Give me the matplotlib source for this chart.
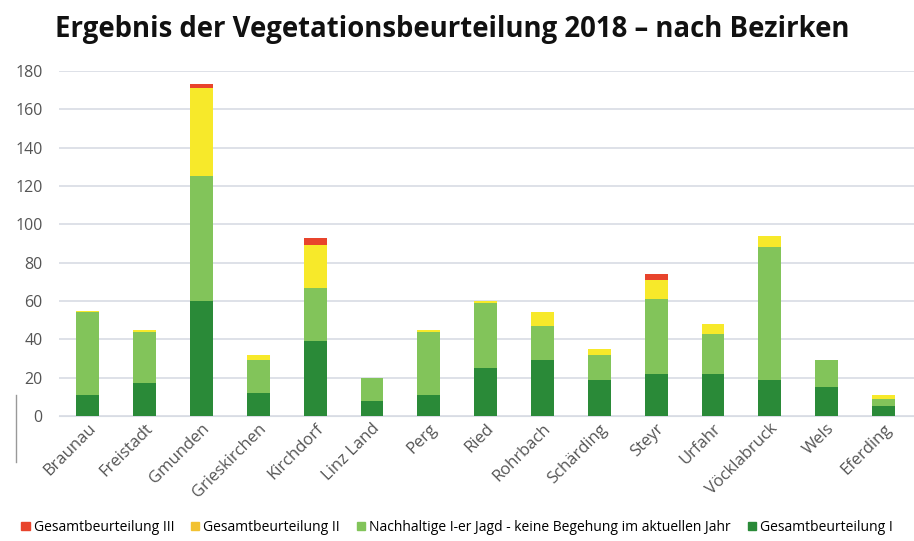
import matplotlib
matplotlib.use("Agg")
import matplotlib.pyplot as plt
import numpy as np
from matplotlib.patches import Patch

# Data
bezirke = ["Braunau", "Freistadt", "Gmunden", "Grieskirchen", "Kirchdorf", "Linz Land",
           "Perg", "Ried", "Rohrbach", "Schärding", "Steyr", "Urfahr", "Vöcklabruck",
           "Wels", "Eferding"]
gesamt_i = [11, 17, 60, 12, 39, 8, 11, 25, 29, 19, 22, 22, 19, 15, 5]
nachhaltig = [43, 27, 65, 17, 28, 12, 33, 34, 18, 13, 39, 21, 69, 14, 4]
gesamt_ii = [1, 1, 46, 3, 22, 0, 1, 1, 7, 3, 10, 5, 6, 0, 2]
gesamt_iii = [0, 0, 2, 0, 4, 0, 0, 0, 0, 0, 3, 0, 0, 0, 0]

plt.rcParams['font.family'] = ['Open Sans', 'DejaVu Sans']

fig = plt.figure(figsize=(9.14, 5.41), dpi=100)
ax = fig.add_axes([0.065, 0.231, 0.942, 0.638])

x = np.arange(len(bezirke))
w = 0.4
c_dark = '#2a8a38'
c_light = '#82c45a'
c_yellow = '#f7e92a'
c_red = '#e8442c'

b1 = np.array(gesamt_i)
b2 = b1 + np.array(nachhaltig)
b3 = b2 + np.array(gesamt_ii)
ax.bar(x, gesamt_i, w, color=c_dark, zorder=3)
ax.bar(x, nachhaltig, w, bottom=b1, color=c_light, zorder=3)
ax.bar(x, gesamt_ii, w, bottom=b2, color=c_yellow, zorder=3)
ax.bar(x, gesamt_iii, w, bottom=b3, color=c_red, zorder=3)

ax.set_ylim(0, 180)
ax.set_xlim(-0.5, len(bezirke) - 0.35)
ax.set_yticks(range(0, 181, 20))
ax.yaxis.grid(True, color='#d8dce4', linewidth=1.2, zorder=0)
ax.tick_params(axis='y', length=0, labelsize=11.5, labelcolor='#555555', pad=12)
ax.tick_params(axis='x', length=0, labelsize=12, labelcolor='#555555')
ax.set_xticks(x)
ax.set_xticklabels(bezirke, rotation=45, ha='right', rotation_mode='anchor')
for s in ['top', 'right', 'left']:
    ax.spines[s].set_visible(False)
ax.spines['bottom'].set_color('#d8dce4')

fig.text(0.06, 0.945, "Ergebnis der Vegetationsbeurteilung 2018 – nach Bezirken",
         fontsize=19.8, fontweight='bold', color='#111111', va='center')

# stray line at the left
fig.add_artist(plt.Line2D([0.017, 0.017], [0.146, 0.27], color='#999999', lw=1))

# Legend
handles = [Patch(color=c_red), Patch(color='#f2c232'), Patch(color=c_light), Patch(color=c_dark)]
labels = ["Gesamtbeurteilung III", "Gesamtbeurteilung II",
          "Nachhaltige I-er Jagd - keine Begehung im aktuellen Jahr", "Gesamtbeurteilung I"]
fig.legend(handles, labels, loc='center', bbox_to_anchor=(0.5, 0.025), ncol=4,
           frameon=False, fontsize=10, handlelength=0.6, handleheight=0.6,
           handletextpad=0.3, columnspacing=1.2)

fig.savefig("out.png", dpi=100)
